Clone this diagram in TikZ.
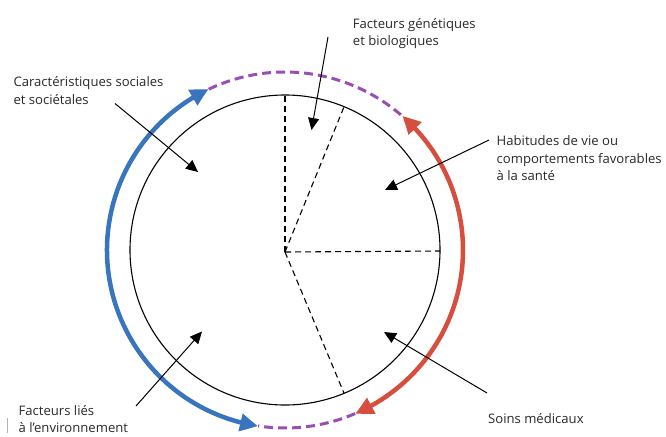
\documentclass[tikz,border=0pt]{standalone}
\usepackage{fontspec}
\setmainfont{Open Sans}
\usetikzlibrary{arrows.meta,calc,bending}
\definecolor{cblue}{RGB}{56,117,189}
\definecolor{cred}{RGB}{214,78,62}
\definecolor{cpurple}{RGB}{152,78,178}
\definecolor{ctext}{RGB}{40,40,40}
\begin{document}
\begin{tikzpicture}[x=1pt,y=-1pt,
  lbl/.style={anchor=base west, inner sep=0pt, align=left, font=\fontsize{13.1}{17.5}\selectfont, text=ctext},
  ptr/.style={line width=1pt, -{Triangle[length=12pt,width=11pt]}},
  spoke/.style={line width=1.1pt, dash pattern=on 6pt off 4pt},
  band/.style={line width=4.5pt},
  tipb/.style={{Triangle[length=18pt,width=17pt,bend]}-{Triangle[length=18pt,width=17pt,bend]}},
  pdash/.style={cpurple, line width=3pt, dash pattern=on 9pt off 5pt}
]
\useasboundingbox (0,0) rectangle (666,436);
\coordinate (O) at (285,250);
\coordinate (H) at (285,252);
% main circle
\draw[line width=1.1pt] (O) circle[radius=155];
% spokes
\coordinate (s1) at (285,95);
\coordinate (s2) at ($(O)+(-67.6:155)$);
\coordinate (s3) at (440,251);
\coordinate (s4) at ($(O)+(67.6:155)$);
\draw[spoke] (H) -- (s1);
\draw[spoke] (H) -- (s2);
\draw[spoke] (H) -- (s3);
\draw[spoke] (H) -- (s4);
% outer arcs
\draw[pdash] ($(O)+(-115.4:178)$) arc[start angle=-115.4, end angle=-48.8, radius=178];
\draw[pdash] ($(O)+(66.8:178)$) arc[start angle=66.8, end angle=98.7, radius=178];
\draw[band, cblue, tipb] ($(O)+(98.7:178)$) arc[start angle=98.7, end angle=244.6, radius=178];
\draw[band, cred, tipb] ($(O)+(-48.8:178)$) arc[start angle=-48.8, end angle=66.8, radius=178];
% labels (anchor = baseline of last line)
\node[lbl] (gen) at (352.7,45.7) {Facteurs génétiques\\et biologiques};
\node[lbl] (soc) at (13.3,104) {Caractéristiques sociales\\et sociétales};
\node[lbl] (hab) at (496.5,180.5) {Habitudes de vie ou\\comportements favorables\\à la santé};
\node[lbl] (env) at (18.5,432.5) {Facteurs liés\\à l'environnement};
\node[lbl] (soin) at (488,423) {Soins médicaux};
\draw[gray!60, line width=0.8pt] (7.5,418) -- (7.5,433);
% pointer arrows
\coordinate (gA) at (328,37);   \coordinate (gB) at (311.5,130);
\coordinate (cA) at (115,103.5); \coordinate (cB) at (198,172);
\coordinate (hA) at (489,140);  \coordinate (hB) at (385,190);
\coordinate (mA) at (487,393);  \coordinate (mB) at (384,332);
\coordinate (eA) at (136,406);  \coordinate (eB) at (202,331.5);
\draw[ptr] (gA) -- (gB);
\draw[ptr] (cA) -- (cB);
\draw[ptr] (hA) -- (hB);
\draw[ptr] (mA) -- (mB);
\draw[ptr] (eA) -- (eB);
\end{tikzpicture}
\end{document}
